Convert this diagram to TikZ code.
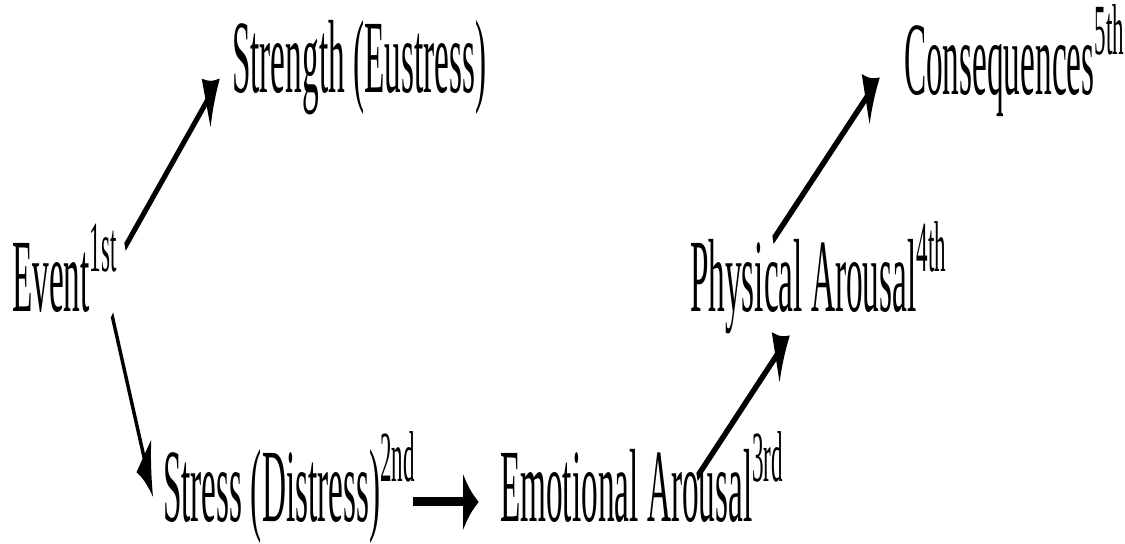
\documentclass[tikz,border=0pt]{standalone}
\usepackage{fontspec}
\setmainfont{Liberation Serif}
\usetikzlibrary{arrows.meta}
\newcommand{\ordinal}[1]{\raisebox{20pt}{\fontsize{36}{36}\selectfont #1}}

\begin{document}
\begin{tikzpicture}[
        x=0.5pt, y=0.5pt,
        stage/.style={anchor=base west, inner sep=0pt, font=\fontsize{52}{52}\selectfont},
        flow/.style={-{Latex[length=25pt, width=29pt]}, line width=4.5pt}
    ]
    \useasboundingbox (0,0) rectangle (1125,544);
    \begin{scope}[x=1.5625pt, transform canvas={xscale=0.32}]
        \node[stage] (event) at (12,232) {Event\ordinal{1st}};
        \node[stage] (strength) at (232,451) {Strength (Eustress)};
        \node[stage] (stress) at (163,22) {Stress (Distress)\ordinal{2nd}};
        \node[stage] (emotional) at (500,22) {Emotional Arousal\ordinal{3rd}};
        \node[stage] (physical) at (690,232) {Physical Arousal\ordinal{4th}};
        \node[stage] (conseq) at (904,449) {Consequences\ordinal{5th}};

        \draw[flow] ([shift={(113,65)}]event.base west) -- ([shift={(-12,15)}]strength.base west);
        \draw[flow] ([shift={(100,-3)}]event.base west) -- ([shift={(-10,25)}]stress.base west);
        \draw[flow] ([shift={(250,20)}]stress.base west) -- ([shift={(-21,20)}]emotional.base west);
        \draw[flow] ([shift={(197,45)}]emotional.base west) -- ([shift={(100,-23)}]physical.base west);
        \draw[flow] ([shift={(83,72)}]physical.base west) -- ([shift={(-24,18)}]conseq.base west);
    \end{scope}
\end{tikzpicture}
\end{document}
